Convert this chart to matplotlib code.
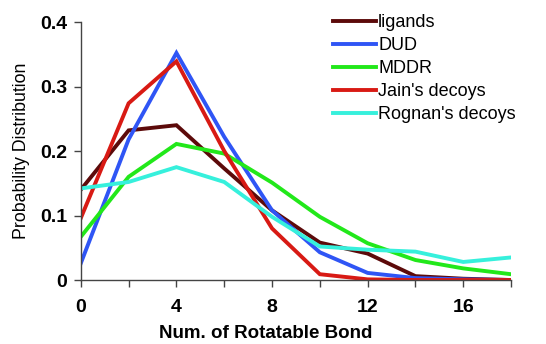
import matplotlib
matplotlib.use("Agg")
import matplotlib.pyplot as plt

x = [0, 2, 4, 6, 8, 10, 12, 14, 16, 18]
ligands = [0.140, 0.232, 0.240, 0.173, 0.108, 0.058, 0.041, 0.006, 0.002, 0.000]
dud = [0.026, 0.218, 0.352, 0.222, 0.108, 0.043, 0.011, 0.003, 0.001, 0.000]
mddr = [0.067, 0.160, 0.211, 0.196, 0.151, 0.098, 0.057, 0.031, 0.018, 0.009]
jain = [0.096, 0.274, 0.339, 0.200, 0.080, 0.009, 0.001, 0.000, 0.000, 0.000]
rognan = [0.142, 0.152, 0.175, 0.152, 0.098, 0.052, 0.047, 0.044, 0.028, 0.035]

series = [
    ("ligands", ligands, "#5c0a0a"),
    ("DUD", dud, "#2f55f5"),
    ("MDDR", mddr, "#22e81a"),
    ("Jain's decoys", jain, "#d81a14"),
    ("Rognan's decoys", rognan, "#36f0dc"),
]

plt.rcParams['font.family'] = ['Liberation Sans', 'DejaVu Sans']

fig = plt.figure(figsize=(5.46, 3.44), dpi=100)
ax = fig.add_axes([0.148, 0.186, 0.788, 0.750])

for name, vals, col in series:
    ax.plot(x, vals, color=col, lw=2.8, label=name, solid_joinstyle='miter')

ax.set_xlim(0, 18)
ax.set_ylim(0, 0.4)
ax.set_xticks(x)
ax.set_xticklabels([str(v) if v % 4 == 0 else "" for v in x])
ax.set_yticks([0, 0.1, 0.2, 0.3, 0.4])
ax.set_yticklabels(["0", "0.1", "0.2", "0.3", "0.4"])
for lab in ax.get_xticklabels() + ax.get_yticklabels():
    lab.set_fontweight('bold')
    lab.set_fontsize(14)
ax.tick_params(axis='x', direction='out', length=5, width=1, color='#444444', pad=9)
ax.tick_params(axis='y', direction='out', length=5, width=1, color='#444444', pad=5)

for s in ['top', 'right']:
    ax.spines[s].set_visible(False)
for s in ['left', 'bottom']:
    ax.spines[s].set_color('#444444')
    ax.spines[s].set_linewidth(1)

ax.set_xlabel("Num. of Rotatable Bond", fontsize=13.5, fontweight='bold', labelpad=4)
ax.xaxis.set_label_coords(0.43, -0.175)
ax.set_ylabel("Probability Distribution", fontsize=12.8, labelpad=4)
ax.yaxis.set_label_coords(-0.118, 0.5)

leg = ax.legend(loc='center left', bbox_to_anchor=(0.586, 0.82), frameon=False,
                fontsize=13, handlelength=2.4, handletextpad=0.1,
                labelspacing=0.33, borderaxespad=0, borderpad=0)

fig.savefig("out.png", dpi=100)
